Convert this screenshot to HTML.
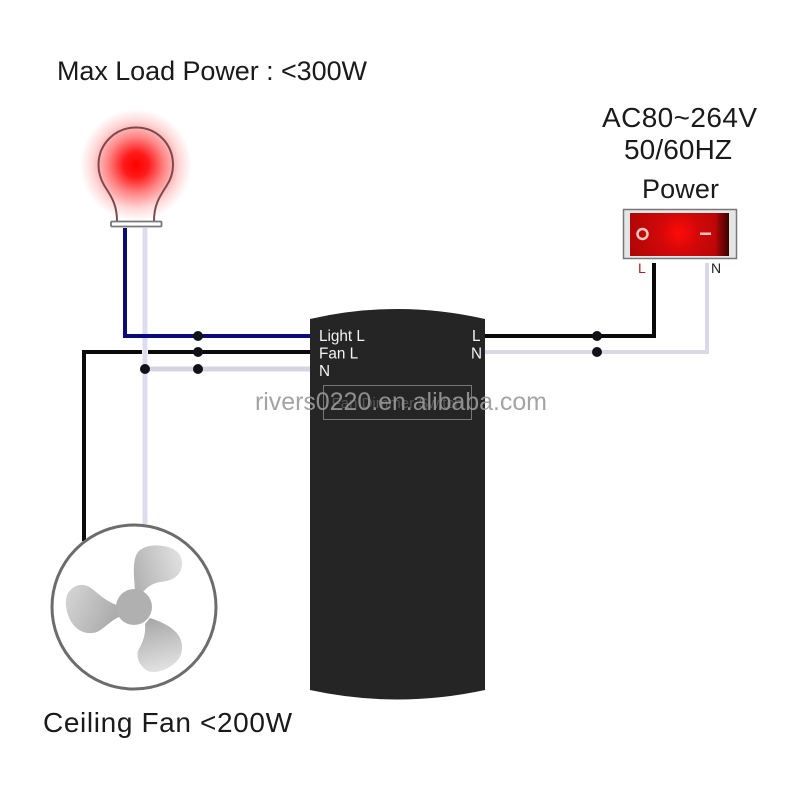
<!DOCTYPE html>
<html>
<head>
<meta charset="utf-8">
<style>
html,body{margin:0;padding:0;background:#fff;width:800px;height:800px;overflow:hidden}
svg{display:block;font-family:"Liberation Sans",sans-serif}
</style>
</head>
<body>
<svg width="800" height="800" viewBox="0 0 800 800" xmlns="http://www.w3.org/2000/svg">
<defs>
<radialGradient id="glow" gradientUnits="userSpaceOnUse" cx="136" cy="165" r="56">
<stop offset="0" stop-color="#ff0000"/>
<stop offset="0.22" stop-color="#ff1a1a"/>
<stop offset="0.5" stop-color="#ff8484"/>
<stop offset="0.78" stop-color="#ffd8d8"/>
<stop offset="1" stop-color="#ffffff"/>
</radialGradient>
<radialGradient id="sw" gradientUnits="userSpaceOnUse" cx="679" cy="233" r="52">
<stop offset="0" stop-color="#ff0a0a"/>
<stop offset="0.4" stop-color="#d00808"/>
<stop offset="1" stop-color="#b00606"/>
</radialGradient>
<linearGradient id="swEnd" x1="0" x2="1" y1="0" y2="0">
<stop offset="0" stop-color="#b00606"/>
<stop offset="1" stop-color="#3a0202"/>
</linearGradient>
<linearGradient id="bl1" x1="0" x2="1" y1="0.5" y2="0.2">
<stop offset="0" stop-color="#b4b4b4"/>
<stop offset="1" stop-color="#e2e2e2"/>
</linearGradient>
<linearGradient id="bl2" x1="1" x2="0" y1="0.6" y2="0.2">
<stop offset="0" stop-color="#aaaaaa"/>
<stop offset="1" stop-color="#d4d4d4"/>
</linearGradient>
<linearGradient id="bl3" x1="0.4" x2="0.6" y1="0" y2="1">
<stop offset="0" stop-color="#a8a8a8"/>
<stop offset="1" stop-color="#e4e4e4"/>
</linearGradient>
</defs>

<!-- wires -->
<g fill="none" stroke-linejoin="miter">
<path d="M145 228V524" stroke="#dcdcec" stroke-width="5"/>
<path d="M125 228V336H312" stroke="#0a0a78" stroke-width="4"/>
<path d="M84 541V352H142M148 352H312" stroke="#0a0a0a" stroke-width="4"/>
<path d="M145 369H310" stroke="#d4d4e2" stroke-width="5"/>
<path d="M483 336H654V263" stroke="#0a0a0a" stroke-width="4"/>
<path d="M483 352H707V263" stroke="#d8d8e8" stroke-width="4"/>
</g>
<g fill="#111118">
<circle cx="198" cy="336" r="5"/>
<circle cx="198" cy="352" r="5"/>
<circle cx="198" cy="369" r="5"/>
<circle cx="145" cy="369" r="5"/>
<circle cx="597" cy="336" r="5"/>
<circle cx="597" cy="352" r="5"/>
</g>

<!-- bulb -->
<circle cx="136" cy="165" r="56" fill="url(#glow)"/>
<path d="M117 221C117 203 110 195 104 185C100 178 98.500 172 98.500 165C98.500 144 115 127.500 136 127.500C157 127.500 173 144 173 165C173 172 171 179 167 185C161 195 154 203 154 221" fill="none" stroke="#7c4a4e" stroke-width="2"/>
<rect x="111" y="221.500" width="50.500" height="5" rx="1" fill="#fff" stroke="#77777c" stroke-width="1.800"/>

<!-- controller body -->
<path d="M310 319Q397 299 485 319V690Q397 709 310 690Z" fill="#252525"/>
<g fill="#f4f4f4" font-size="15.300">
<text x="319" y="341">Light L</text>
<text x="319" y="358.500">Fan L</text>
<text x="319" y="376">N</text>
<text x="472" y="341">L</text>
<text x="471" y="358.500">N</text>
</g>
<rect x="323.500" y="385.500" width="148" height="34" fill="none" stroke="#777" stroke-width="1"/>
<text x="397" y="408" font-size="15" fill="#555" text-anchor="middle">Fan Dimmer Switch</text>
<text x="255" y="410" font-size="25" fill="#9a9a9a" fill-opacity="0.9" textLength="292">rivers0220.en.alibaba.com</text>

<!-- switch -->
<rect x="623.500" y="209.500" width="113" height="49" fill="#e4e6e6" stroke="#74787a" stroke-width="1.500"/>
<rect x="630" y="213" width="99" height="43" fill="url(#sw)"/>
<rect x="716" y="213" width="13" height="43" fill="url(#swEnd)"/>
<circle cx="642.500" cy="234" r="5" fill="none" stroke="#f4c8c0" stroke-width="2.500"/>
<rect x="700" y="232.500" width="11" height="2.500" fill="#f4c8c0"/>
<text x="638" y="273" font-size="14" fill="#b02020">L</text>
<text x="711" y="273" font-size="14" fill="#222">N</text>

<!-- fan -->
<circle cx="134" cy="607" r="82" fill="#fff" stroke="#6c6c6c" stroke-width="3"/>
<path d="M135 592C134 575 132 560 138 552C145 544 160 544 171 548C181 552 184 561 181 570C177 579 169 581 160 582C150 584 145 589 141 595Z" fill="url(#bl1)"/>
<path d="M117 605C105 601 98 593 91 588C83 582 73 585 68 593C64 601 66 614 72 623C78 632 88 635 97 632C105 628 110 621 119 617Z" fill="url(#bl2)"/>
<path d="M150 618C162 622 173 627 179 636C184 645 183 656 175 663C167 670 156 674 148 671C140 667 136 658 138 651C142 643 146 636 145 624Z" fill="url(#bl3)"/>
<circle cx="134" cy="607" r="18" fill="#b0b0b0"/>

<!-- labels -->
<g fill="#1a1a1a">
<text x="57" y="80" font-size="27" textLength="310">Max Load Power : &lt;300W</text>
<text x="602" y="127" font-size="28" textLength="155">AC80~264V</text>
<text x="624" y="159" font-size="28" textLength="108">50/60HZ</text>
<text x="642" y="198" font-size="27" textLength="77">Power</text>
<text x="43" y="732" font-size="28" textLength="249">Ceiling Fan &lt;200W</text>
</g>
</svg>
</body>
</html>
